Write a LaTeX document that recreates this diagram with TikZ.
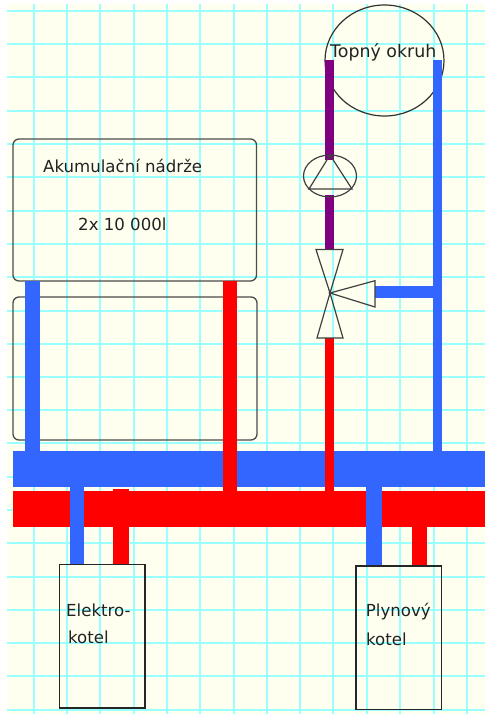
\documentclass[tikz,border=0pt]{standalone}
\usepackage{fontspec}
\usetikzlibrary{shapes.geometric}
\setmainfont{DejaVu Sans}
\definecolor{cream}{HTML}{FFFFF0}
\definecolor{gridc}{HTML}{99FFFF}
\definecolor{pipeblue}{HTML}{3366FF}
\definecolor{pipered}{HTML}{FF0000}
\definecolor{pipepurple}{HTML}{800080}
\definecolor{ink}{HTML}{222222}
\tikzset{
  x=1pt,y=-1pt,
  tankbox/.style={draw=black!70,line width=1.3pt,rounded corners=6pt,inner sep=0pt},
  boilerbox/.style={draw=black!85,line width=1.3pt,inner sep=0pt},
  symbolline/.style={draw=black!75,line width=1.2pt,line join=miter},
  bluepipe/.style={fill=pipeblue,draw=none},
  redpipe/.style={fill=pipered,draw=none},
  purplepipe/.style={fill=pipepurple,draw=none},
  txt/.style={anchor=base west,inner sep=0pt,text=ink,font=\fontsize{16.6}{20}\selectfont},
}
\begin{document}
\begin{tikzpicture}
\useasboundingbox (0,0) rectangle (485,716);
\fill[white] (0,0) rectangle (485,716);
\fill[cream] (7,4) rectangle (485,714);
% grid
\foreach \gx in {34,67,100,134,167,200,234,267,300,333,367,400,434,467}
  \draw[gridc,line width=1.3pt] (\gx,4) -- (\gx,714);
\foreach \gy in {11,44,77,111,144,177,211,244,277,311,344,377,410,443,477,510,543,577,610,643,676,710}
  \draw[gridc,line width=1.3pt] (7,\gy) -- (485,\gy);
% tanks
\draw[tankbox] (13,139) rectangle (256.5,281);
\draw[tankbox] (13,297) rectangle (257,440);
% heating circuit
\node[draw=black!80,line width=1.2pt,ellipse,minimum width=119pt,minimum height=111pt,inner sep=0pt] (okruh) at (384.5,60.5) {};
% pipes
\fill[bluepipe] (24.5,281) rectangle (40,452);
\fill[redpipe] (222.5,281) rectangle (237,491);
\fill[bluepipe] (433,60) rectangle (442,452);
\fill[bluepipe] (375,286) rectangle (433,297.7);
\fill[purplepipe] (325,60) rectangle (334.3,160);
\fill[purplepipe] (325,195) rectangle (334.3,250);
% bars
\fill[bluepipe] (12.5,451) rectangle (485,486.5);
\fill[redpipe] (12.5,491) rectangle (485,526.5);
\fill[redpipe] (222.5,440) rectangle (237,491);
\fill[redpipe] (325,338) rectangle (334.3,491);
\fill[redpipe] (113,489) rectangle (129,565);
\fill[redpipe] (411.5,526) rectangle (427,566);
\fill[bluepipe] (69.5,486) rectangle (84,565);
\fill[bluepipe] (366,486) rectangle (382,566);
% pump
\draw[symbolline] (330,176) ellipse [x radius=26.5, y radius=21];
\draw[symbolline] (330,155) -- (352,189) -- (309,189) -- cycle;
% valve
\draw[symbolline] (316,249.5) -- (343,249.5) -- (330,293) -- cycle;
\draw[symbolline] (317,338) -- (343,338) -- (330,293) -- cycle;
\draw[symbolline] (330,293) -- (375,280.7) -- (375,307) -- cycle;
% boilers
\draw[boilerbox] (59.5,564.5) rectangle (145,708);
\draw[boilerbox] (356,566) rectangle (441.5,709.5);
% labels
\node[txt] (t1) at (43,172) {Akumulační nádrže};
\node[txt] (t2) at (78,230) {2x 10 000l};
\node[txt,font=\fontsize{17.4}{20}\selectfont] (t3) at (330,57) {Topný okruh};
\node[txt] (t4) at (66,616) {Elektro-};
\node[txt] (t5) at (68,643) {kotel};
\node[txt] (t6) at (365.7,616) {Plynový};
\node[txt] (t7) at (366,645) {kotel};
\end{tikzpicture}
\end{document}
